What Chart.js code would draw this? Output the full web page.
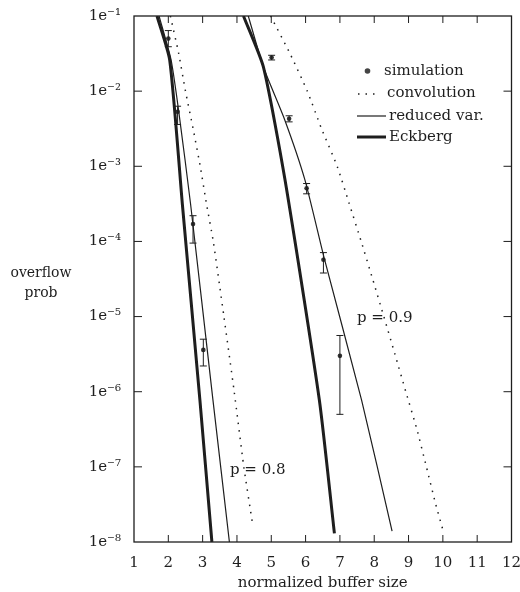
<!DOCTYPE html>
<html>
<head>
<meta charset="utf-8">
<script src="https://cdn.jsdelivr.net/npm/chart.js@4"></script>
<style>
  body { margin: 0; background: #fff; }
</style>
</head>
<body>
<canvas id="overflowChart" width="520" height="592"></canvas>
<script>
// p = 0.8
var conv08X = [2.06, 2.30, 2.50, 2.72, 2.93, 3.11, 3.31, 3.62, 3.92, 4.20, 4.45];
var conv08Y = [1e-1, 3.2e-2, 1e-2, 3.2e-3, 1e-3, 3.2e-4, 1e-4, 1e-5, 1e-6, 1e-7, 1.8e-8];
var redVar08X = [1.73, 2.08, 2.31, 2.65, 3.30, 3.78];
var redVar08Y = [1e-1, 2.6e-2, 5.1e-3, 3.1e-4, 7.8e-7, 1e-8];
var eck08X = [1.67, 2.04, 2.41, 2.92, 3.27];
var eck08Y = [1e-1, 2.6e-2, 3.1e-4, 7.8e-7, 1e-8];
var sim08X = [2.0, 2.27, 2.72, 3.02];
var sim08Y = [5.0e-2, 5.3e-3, 1.7e-4, 3.6e-6];
var sim08Lo = [3.9e-2, 3.6e-3, 9.5e-5, 2.2e-6];
var sim08Hi = [6.4e-2, 6.3e-3, 2.2e-4, 5.0e-6];

// p = 0.9
var conv09X = [4.98, 5.54, 6.05, 6.46, 6.92, 7.27, 7.62, 7.95, 8.28, 8.60, 8.92, 9.24, 9.52, 9.79, 10.01];
var conv09Y = [1e-1, 3.2e-2, 1e-2, 3.2e-3, 1e-3, 3.2e-4, 1e-4, 3.2e-5, 1e-5, 3.2e-6, 1e-6, 3.2e-7, 1e-7, 3.2e-8, 1.4e-8];
var redVar09X = [4.33, 4.77, 5.38, 5.98, 6.55, 7.63, 8.52];
var redVar09Y = [1e-1, 2.1e-2, 4.3e-3, 6.6e-4, 5.8e-5, 7.8e-7, 1.4e-8];
var eck09X = [4.19, 4.77, 5.40, 6.40, 6.84];
var eck09Y = [1e-1, 2.1e-2, 6.6e-4, 7.8e-7, 1.3e-8];
var sim09X = [5.01, 5.52, 6.03, 6.52, 7.0];
var sim09Y = [2.8e-2, 4.3e-3, 5.1e-4, 5.7e-5, 3.0e-6];
var sim09Lo = [2.6e-2, 3.9e-3, 4.3e-4, 3.8e-5, 5.0e-7];
var sim09Hi = [3.0e-2, 4.7e-3, 5.9e-4, 7.1e-5, 5.6e-6];

var yTickValues = [1e-8, 1e-7, 1e-6, 1e-5, 1e-4, 1e-3, 1e-2, 1e-1];
var yTickLabels = ['1e\u207B\u2078', '1e\u207B\u2077', '1e\u207B\u2076', '1e\u207B\u2075', '1e\u207B\u2074', '1e\u207B\u00B3', '1e\u207B\u00B2', '1e\u207B\u00B9'];

var ink = '#1e1e1e';
var serif = "'DejaVu Serif', serif";

function pts(xs, ys) {
     return xs.map(function (x, i) { return { x: x, y: ys[i] }; });
}

function curve(xs, ys, width, dash) {
     return {
          data: pts(xs, ys),
          borderColor: ink,
          borderWidth: width,
          borderDash: dash || [],
          pointRadius: 0,
          tension: 0.2,
          fill: false
     };
}

function sim(xs, ys) {
     return {
          data: pts(xs, ys),
          showLine: false,
          pointRadius: 2.3,
          pointBackgroundColor: '#333',
          pointBorderWidth: 0
     };
}

// error bars, inward ticks, box, legend and annotations
var extras = {
     id: 'extras',
     afterDatasetsDraw: function (chart) {
          var ctx = chart.ctx, xs = chart.scales.x, ys = chart.scales.y;
          ctx.save();
          ctx.strokeStyle = ink;
          ctx.lineWidth = 1;
          [[sim08X, sim08Lo, sim08Hi], [sim09X, sim09Lo, sim09Hi]].forEach(function (g) {
               g[0].forEach(function (x, i) {
                    var px = xs.getPixelForValue(x);
                    var lo = ys.getPixelForValue(g[1][i]);
                    var hi = ys.getPixelForValue(g[2][i]);
                    ctx.beginPath();
                    ctx.moveTo(px, lo); ctx.lineTo(px, hi);
                    ctx.moveTo(px - 3.5, lo); ctx.lineTo(px + 3.5, lo);
                    ctx.moveTo(px - 3.5, hi); ctx.lineTo(px + 3.5, hi);
                    ctx.stroke();
               });
          });
          ctx.restore();
     },
     afterDraw: function (chart) {
          var ctx = chart.ctx, a = chart.chartArea, xs = chart.scales.x, ys = chart.scales.y;
          ctx.save();
          ctx.strokeStyle = ink;
          ctx.lineWidth = 1.3;
          ctx.strokeRect(a.left, a.top, a.right - a.left, a.bottom - a.top);
          ctx.lineWidth = 1;
          ctx.beginPath();
          for (var v = 2; v <= 11; v++) {
               var px = xs.getPixelForValue(v);
               ctx.moveTo(px, a.bottom); ctx.lineTo(px, a.bottom - 7);
               ctx.moveTo(px, a.top); ctx.lineTo(px, a.top + 7);
          }
          yTickValues.slice(1, -1).forEach(function (t) {
               var py = ys.getPixelForValue(t);
               ctx.moveTo(a.left, py); ctx.lineTo(a.left + 8, py);
               ctx.moveTo(a.right, py); ctx.lineTo(a.right - 8, py);
          });
          ctx.stroke();

          ctx.fillStyle = ink;
          ctx.textBaseline = 'middle';
          ctx.textAlign = 'center';
          ctx.font = '14px ' + serif;
          ctx.fillText('overflow', 41, 273);
          ctx.fillText('prob', 41, 293);

          ctx.textAlign = 'left';
          ctx.font = '15px ' + serif;
          ctx.fillText('p = 0.8', 230, 470);
          ctx.fillText('p = 0.9', 357, 318);

          // legend
          ctx.beginPath();
          ctx.arc(367.5, 71, 2.8, 0, Math.PI * 2);
          ctx.fillStyle = '#444';
          ctx.fill();
          ctx.fillStyle = ink;
          ctx.fillText('simulation', 384, 71);

          ctx.lineWidth = 1.5;
          ctx.setLineDash([1.5, 6]);
          ctx.beginPath(); ctx.moveTo(358, 94); ctx.lineTo(380, 94); ctx.stroke();
          ctx.fillText('convolution', 387, 93);

          ctx.setLineDash([]);
          ctx.lineWidth = 1.2;
          ctx.beginPath(); ctx.moveTo(357, 116); ctx.lineTo(386, 116); ctx.stroke();
          ctx.fillText('reduced var.', 389, 116);

          ctx.lineWidth = 3;
          ctx.beginPath(); ctx.moveTo(357, 137); ctx.lineTo(386, 137); ctx.stroke();
          ctx.fillText('Eckberg', 389, 137);
          ctx.restore();
     }
};

Chart.defaults.font.family = serif;
Chart.defaults.color = ink;

new Chart(document.getElementById('overflowChart'), {
     type: 'line',
     data: {
          datasets: [
               curve(conv08X, conv08Y, 1.5, [1.5, 6]),
               curve(redVar08X, redVar08Y, 1.2),
               curve(eck08X, eck08Y, 3),
               sim(sim08X, sim08Y),
               curve(conv09X, conv09Y, 1.5, [1.5, 6]),
               curve(redVar09X, redVar09Y, 1.2),
               curve(eck09X, eck09Y, 3),
               sim(sim09X, sim09Y)
          ]
     },
     options: {
          responsive: false,
          animation: false,
          devicePixelRatio: 1,
          layout: { padding: { left: 0, top: 16, right: 8.5, bottom: 0 } },
          plugins: {
               legend: { display: false },
               tooltip: { enabled: false }
          },
          scales: {
               x: {
                    type: 'linear',
                    min: 1,
                    max: 12,
                    grid: { display: false, drawTicks: false },
                    border: { display: false },
                    ticks: { stepSize: 1, padding: 12, font: { size: 15 } },
                    title: {
                         display: true,
                         text: 'normalized buffer size',
                         font: { size: 15 },
                         padding: { top: 0, bottom: 0 }
                    },
                    afterFit: function (s) {
                         s.height = 50;
                         s.paddingLeft = 0;
                         s.paddingRight = 0;
                    }
               },
               y: {
                    type: 'logarithmic',
                    min: 1e-8,
                    max: 1e-1,
                    grid: { display: false, drawTicks: false },
                    border: { display: false },
                    ticks: {
                         padding: 13,
                         font: { size: 15 },
                         callback: function (v, i) { return yTickLabels[i]; }
                    },
                    afterBuildTicks: function (s) {
                         s.ticks = yTickValues.map(function (v) { return { value: v }; });
                    },
                    afterFit: function (s) {
                         s.width = 134;
                         s.paddingTop = 0;
                         s.paddingBottom = 0;
                    }
               }
          }
     },
     plugins: [extras]
});
</script>
</body>
</html>
